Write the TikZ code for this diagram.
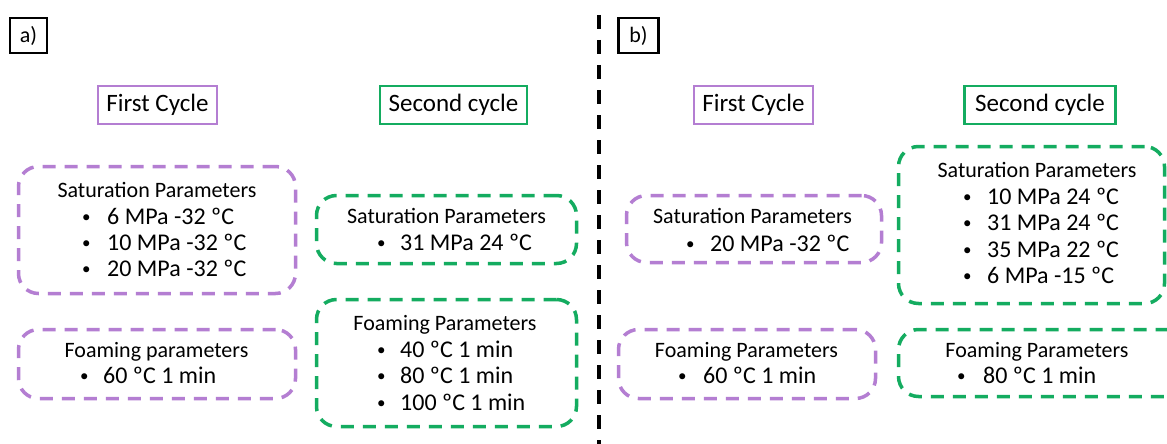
\documentclass[tikz,border=0pt]{standalone}
\usepackage{fontspec}
\setmainfont{Carlito}
\definecolor{vio}{RGB}{180,126,210}
\definecolor{grn}{RGB}{20,172,96}
\newcommand{\fsz}{\fontsize{22}{26.5}\selectfont}
\newcommand{\fitm}{\fontsize{24}{28.5}\selectfont}
\newcommand{\fbig}{\fontsize{25}{30}\selectfont}
\newcommand{\bul}{\raisebox{1.5pt}{\fontsize{17}{17}\selectfont\textbullet}}
\tikzset{
  hd/.style={inner sep=0pt, anchor=base, font=\fsz},
  itm/.style={inner sep=0pt, anchor=base west, font=\fitm},
  dbox/.style={line width=3.5pt, dash pattern=on 13pt off 9pt, rounded corners=20pt, inner sep=0pt},
  lab/.style={draw=black, line width=2.5pt, inner sep=0pt, font=\fsz},
  cyc/.style={line width=2.5pt, inner sep=0pt, font=\fbig, minimum height=38pt},
  vline/.style={line width=3.8pt, dash pattern=on 14pt off 11pt}
}
\begin{document}
\begin{tikzpicture}[x=1pt,y=-1pt]
\useasboundingbox (0,0) rectangle (1167,444);
\fill[white] (0,0) rectangle (1167,444);

% labels
\node[lab, minimum width=37pt, minimum height=35pt] (la) at (28.5,35.5) {a)};
\node[lab, minimum width=40pt, minimum height=35pt] (lb) at (638.5,35.5) {b)};

% divider
\coordinate (vtop) at (599,15);
\coordinate (vbot) at (599,446);
\draw[vline] (vtop) -- (vbot);

% cycle headers
\node[cyc, draw=vio, minimum width=119pt] (a1) at (157.5,105) {First Cycle};
\node[cyc, draw=grn, minimum width=147pt] (a2) at (453.5,105) {Second cycle};
\node[cyc, draw=vio, minimum width=119pt] (b1) at (753.5,105) {First Cycle};
\node[cyc, draw=grn, minimum width=151pt] (b2) at (1040,105) {Second cycle};

% dashed boxes
\node[dbox, draw=vio, minimum width=277pt, minimum height=127pt] (a1s) at (157,230) {};
\node[dbox, draw=vio, minimum width=277pt, minimum height=69pt] (a1f) at (157,364) {};
\node[dbox, draw=grn, minimum width=260pt, minimum height=68pt] (a2s) at (446.5,229.5) {};
\node[dbox, draw=grn, minimum width=260pt, minimum height=127pt] (a2f) at (446.5,363) {};
\node[dbox, draw=vio, minimum width=255pt, minimum height=67pt] (b1s) at (754,229) {};
\node[dbox, draw=vio, minimum width=257pt, minimum height=69pt] (b1f) at (747,364) {};
\node[dbox, draw=grn, minimum width=266pt, minimum height=157pt] (b2s) at (1031.5,225) {};
\node[dbox, draw=grn, minimum width=290pt, minimum height=67pt] (b2f) at (1043.5,363) {};

% a) first cycle saturation
\node[hd] (t1) at (157,197) {Saturation Parameters};
\node[itm] (t1b1) at (82,224) {\bul};
\node[itm] (t1i1) at (107,224) {6 MPa -32 ºC};
\node[itm] (t1b2) at (82,250) {\bul};
\node[itm] (t1i2) at (107,250) {10 MPa -32 ºC};
\node[itm] (t1b3) at (82,276) {\bul};
\node[itm] (t1i3) at (107,276) {20 MPa -32 ºC};
% a) first cycle foaming
\node[hd] (t2) at (156.5,357) {Foaming parameters};
\node[itm] (t2b1) at (80,383) {\bul};
\node[itm] (t2i1) at (103,383) {60 ºC 1 min};
% a) second cycle saturation
\node[hd] (t3) at (446.5,223) {Saturation Parameters};
\node[itm] (t3b1) at (377,250) {\bul};
\node[itm] (t3i1) at (400,250) {31 MPa 24 ºC};
% a) second cycle foaming
\node[hd] (t4) at (445,330) {Foaming Parameters};
\node[itm] (t4b1) at (377,357) {\bul};
\node[itm] (t4i1) at (400,357) {40 ºC 1 min};
\node[itm] (t4b2) at (377,383) {\bul};
\node[itm] (t4i2) at (400,383) {80 ºC 1 min};
\node[itm] (t4b3) at (377,410) {\bul};
\node[itm] (t4i3) at (400,410) {100 ºC 1 min};
% b) first cycle saturation
\node[hd] (t5) at (752.5,223) {Saturation Parameters};
\node[itm] (t5b1) at (686,251) {\bul};
\node[itm] (t5i1) at (710,251) {20 MPa -32 ºC};
% b) first cycle foaming
\node[hd] (t6) at (746.5,357) {Foaming Parameters};
\node[itm] (t6b1) at (678,383) {\bul};
\node[itm] (t6i1) at (703,383) {60 ºC 1 min};
% b) second cycle saturation
\node[hd] (t7) at (1037,177) {Saturation Parameters};
\node[itm] (t7b1) at (963,204) {\bul};
\node[itm] (t7i1) at (987,204) {10 MPa 24 ºC};
\node[itm] (t7b2) at (963,230) {\bul};
\node[itm] (t7i2) at (987,230) {31 MPa 24 ºC};
\node[itm] (t7b3) at (963,257) {\bul};
\node[itm] (t7i3) at (987,257) {35 MPa 22 ºC};
\node[itm] (t7b4) at (963,283) {\bul};
\node[itm] (t7i4) at (987,283) {6 MPa -15 ºC};
% b) second cycle foaming
\node[hd] (t8) at (1037,357) {Foaming Parameters};
\node[itm] (t8b1) at (957,383) {\bul};
\node[itm] (t8i1) at (983,383) {80 ºC 1 min};
\end{tikzpicture}
\end{document}
